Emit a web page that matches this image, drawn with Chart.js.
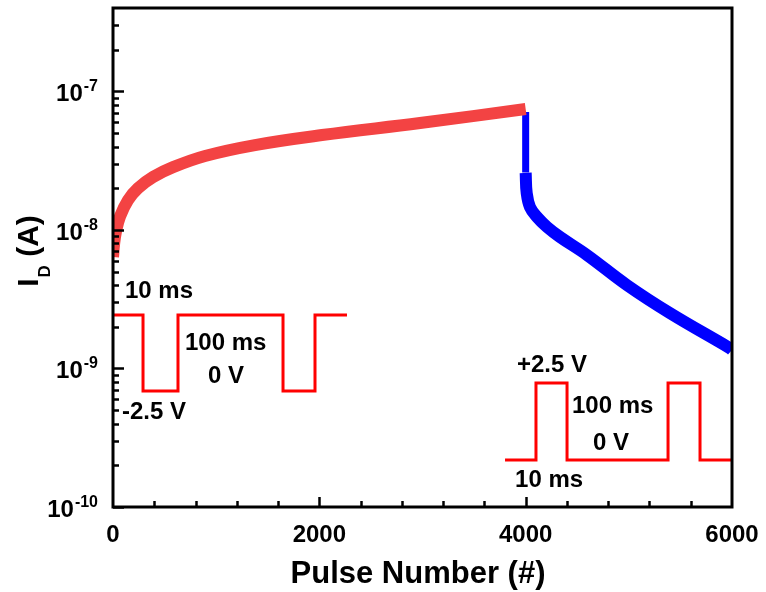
<!DOCTYPE html>
<html><head><meta charset="utf-8">
<script src="https://cdn.jsdelivr.net/npm/chart.js@4/dist/chart.umd.min.js"></script>
<style>html,body{margin:0;padding:0;background:#fff}#wrap{width:766px;height:592px}</style>
</head><body><div id="wrap"><canvas id="c" width="766" height="592"></canvas></div>
<script>
// ---- data ----
const potX = [0, 10, 29, 68, 145, 242, 388, 582, 892, 1376, 2026, 2976, 4000];
const potY = [6.37e-9, 7.83e-9, 9.74e-9, 1.25e-8, 1.64e-8, 2.00e-8, 2.41e-8, 2.84e-8, 3.42e-8, 4.10e-8, 4.84e-8, 5.91e-8, 7.46e-8];
const dropX = [4000, 4000];
const dropY = [7.1e-8, 2.6e-8];
const depX = [4000, 4010, 4042, 4110, 4207, 4333, 4595, 4982, 5399, 5981, 6000];
const depY = [2.58e-8, 1.85e-8, 1.46e-8, 1.24e-8, 1.05e-8, 8.89e-9, 6.59e-9, 4.0e-9, 2.51e-9, 1.40e-9, 1.36e-9];
// pulse-shape insets (drawn in data coordinates)
const wave1X = [0, 291, 291, 630, 630, 1648, 1648, 1958, 1958, 2268];
const wave1Y = [2.43e-9, 2.43e-9, 6.87e-10, 6.87e-10, 2.43e-9, 2.43e-9, 6.87e-10, 6.87e-10, 2.43e-9, 2.43e-9];
const wave2X = [3800, 4100, 4100, 4401, 4401, 5380, 5380, 5690, 5690, 6000];
const wave2Y = [2.18e-10, 2.18e-10, 7.85e-10, 7.85e-10, 2.18e-10, 2.18e-10, 7.85e-10, 7.85e-10, 2.18e-10, 2.18e-10];
// annotation texts and anchors (pulse number, current)
const noteText = ["10 ms", "100 ms", "0 V", "-2.5 V", "+2.5 V", "100 ms", "0 V", "10 ms"];
const noteX = [116, 698, 921, 87, 3916, 4449, 4653, 3897];
const noteY = [3.6e-9, 1.52e-9, 8.75e-10, 4.81e-10, 1.05e-9, 5.32e-10, 2.88e-10, 1.56e-10];
// tick labels
const xTickVals = [0, 2000, 4000, 6000];
const yTickExp = [-10, -9, -8, -7];
const xTitle = "Pulse Number (#)";

const pts = (xs, ys) => xs.map((x, i) => ({x: x, y: ys[i]}));
const FONT = '"Liberation Sans", Arial, sans-serif';

const decor = {
  id: 'decor',
  afterDatasetsDraw(chart) {
    const ctx = chart.ctx, ca = chart.chartArea;
    const xs = chart.scales.x, ys = chart.scales.y;
    ctx.save();
    ctx.strokeStyle = '#000';
    ctx.fillStyle = '#000';
    // frame
    ctx.lineWidth = 3;
    ctx.strokeRect(ca.left, ca.top, ca.right - ca.left, ca.bottom - ca.top);
    // y ticks (inside)
    ctx.lineWidth = 2.5;
    yTickExp.forEach(e => {
      for (let m = 1; m <= 9; m++) {
        const v = m * Math.pow(10, e);
        if (v >= ys.max) continue;
        const py = Math.round(ys.getPixelForValue(v)) + 0.5;
        const len = m === 1 ? 11 : 6;
        ctx.beginPath(); ctx.moveTo(ca.left, py); ctx.lineTo(ca.left + len, py); ctx.stroke();
      }
    });
    // x ticks (inside)
    for (let v = 400; v < 6000; v += 400) {
      const px = Math.round(xs.getPixelForValue(v)) + 0.5;
      const len = v % 2000 === 0 ? 10 : 6;
      ctx.beginPath(); ctx.moveTo(px, ca.bottom); ctx.lineTo(px, ca.bottom - len); ctx.stroke();
    }
    // x tick labels
    ctx.font = 'bold 24px ' + FONT;
    ctx.textAlign = 'center'; ctx.textBaseline = 'alphabetic';
    xTickVals.forEach(v => ctx.fillText(String(v), xs.getPixelForValue(v), 542));
    // y tick labels 10^e
    yTickExp.forEach(e => {
      const py = ys.getPixelForValue(Math.pow(10, e));
      ctx.textAlign = 'left';
      ctx.font = 'bold 16px ' + FONT;
      const sup = String(e);
      const ws = ctx.measureText(sup).width;
      ctx.font = 'bold 24px ' + FONT;
      const wm = ctx.measureText('10').width;
      const xe = 98;
      ctx.fillText('10', xe - ws - wm - 1, py + 10);
      ctx.font = 'bold 16px ' + FONT;
      ctx.fillText(sup, xe - ws, py);
    });
    // x title
    ctx.font = 'bold 31px ' + FONT;
    ctx.textAlign = 'center';
    ctx.fillText(xTitle, 418, 583);
    // y title  I_D (A)
    ctx.save();
    ctx.translate(38, 251);
    ctx.rotate(-Math.PI / 2);
    ctx.textAlign = 'left';
    ctx.font = 'bold 30px ' + FONT;
    const wI = ctx.measureText('I').width;
    const wA = ctx.measureText(' (A)').width;
    ctx.font = 'bold 17px ' + FONT;
    const wD = ctx.measureText('D').width;
    let x0 = -(wI + wD + 1 + wA) / 2;
    ctx.font = 'bold 30px ' + FONT;
    ctx.fillText('I', x0, 0);
    ctx.font = 'bold 17px ' + FONT;
    ctx.fillText('D', x0 + wI + 1, 12);
    ctx.font = 'bold 30px ' + FONT;
    ctx.fillText(' (A)', x0 + wI + 1 + wD, 0);
    ctx.restore();
    // annotations
    ctx.font = 'bold 24px ' + FONT;
    ctx.textAlign = 'left'; ctx.textBaseline = 'middle';
    noteText.forEach((t, i) => ctx.fillText(t, xs.getPixelForValue(noteX[i]), ys.getPixelForValue(noteY[i])));
    ctx.restore();
  }
};

new Chart(document.getElementById('c'), {
  type: 'line',
  data: {
    datasets: [
      {data: pts(wave1X, wave1Y), borderColor: 'rgb(255,0,0)', borderWidth: 3, tension: 0, pointRadius: 0, borderJoinStyle: 'miter'},
      {data: pts(wave2X, wave2Y), borderColor: 'rgb(255,0,0)', borderWidth: 3, tension: 0, pointRadius: 0, borderJoinStyle: 'miter'},
      {data: pts(potX, potY), borderColor: 'rgb(243,67,67)', borderWidth: 12, tension: 0.4, pointRadius: 0, borderJoinStyle: 'round'},
      {data: pts(dropX, dropY), borderColor: 'rgb(0,0,255)', borderWidth: 7, tension: 0, pointRadius: 0},
      {data: pts(depX, depY), borderColor: 'rgb(0,0,255)', borderWidth: 12, tension: 0.4, pointRadius: 0, borderJoinStyle: 'round'}
    ]
  },
  options: {
    responsive: false,
    devicePixelRatio: 1,
    animation: false,
    layout: {padding: {left: 0, right: 34, top: 8, bottom: 0}},
    plugins: {legend: {display: false}, tooltip: {enabled: false}},
    scales: {
      x: {type: 'linear', min: 0, max: 6000,
          ticks: {display: false}, grid: {display: false}, border: {display: false},
          afterFit: s => { s.height = 85; }},
      y: {type: 'logarithmic', min: 1e-10, max: 4e-7,
          ticks: {display: false}, grid: {display: false}, border: {display: false},
          afterFit: s => { s.width = 113; }}
    }
  },
  plugins: [decor]
});
</script></body></html>
